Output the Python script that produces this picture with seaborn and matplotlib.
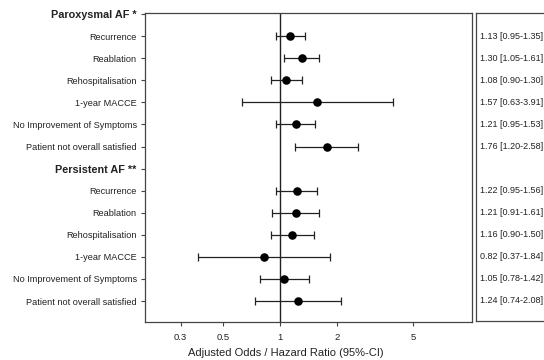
import matplotlib
matplotlib.use("Agg")
import matplotlib.pyplot as plt
import seaborn as sns
import pandas as pd
import numpy as np

groups = ["Paroxysmal AF *", "Persistent AF **"]
outcomes = ["Recurrence", "Reablation", "Rehospitalisation", "1-year MACCE",
            "No Improvement of Symptoms", "Patient not overall satisfied"]
parox_est = [1.13, 1.30, 1.08, 1.57, 1.21, 1.76]
parox_lo = [0.95, 1.05, 0.90, 0.63, 0.95, 1.20]
parox_hi = [1.35, 1.61, 1.30, 3.91, 1.53, 2.58]
pers_est = [1.22, 1.21, 1.16, 0.82, 1.05, 1.24]
pers_lo = [0.95, 0.91, 0.90, 0.37, 0.78, 0.74]
pers_hi = [1.56, 1.61, 1.50, 1.84, 1.42, 2.08]
xticks = [0.3, 0.5, 1, 2, 5]
xtick_labels = ["0.3", "0.5", "1", "2", "5"]

sns.set_style("ticks")
plt.rcParams['font.family'] = ['Liberation Sans', 'DejaVu Sans']

rows, labels, bold = [], [], []
est, lo, hi, pos = [], [], [], []
r = 0
for g, (e, l, h) in zip(groups, [(parox_est, parox_lo, parox_hi), (pers_est, pers_lo, pers_hi)]):
    labels.append(g); bold.append(True); r += 1
    for name, ee, ll, hh in zip(outcomes, e, l, h):
        labels.append(name); bold.append(False)
        est.append(ee); lo.append(ll); hi.append(hh); pos.append(r)
        r += 1
nrows = r
df = pd.DataFrame({"est": est, "lo": lo, "hi": hi, "row": pos})

fig = plt.figure(figsize=(5.44, 3.6), dpi=100)
ax = fig.add_axes([145/544, 1-322/360, (472-145)/544, (322-13)/360])
ax2 = fig.add_axes([476/544, 1-321/360, 0.13, (321-13)/360])

edge = "#444444"
txt = "#222222"
ax.axvline(1, color=txt, lw=1, zorder=1)
ax.errorbar(df["est"], df["row"], xerr=[df["est"]-df["lo"], df["hi"]-df["est"]],
            fmt="none", ecolor=txt, elinewidth=0.9, capsize=2.6, capthick=0.9, zorder=2)
sns.scatterplot(data=df, x="est", y="row", ax=ax, color="black", s=38,
                edgecolor="black", linewidth=0, zorder=3, legend=False)
ax.set_xscale("log")
ax.set_xlim(0.195, 10.2)
ax.set_ylim(nrows - 0.05, -0.05)
ax.set_xticks(xticks)
ax.set_xticklabels(xtick_labels)
ax.xaxis.set_minor_locator(matplotlib.ticker.NullLocator())
ax.set_yticks(range(nrows))
ax.set_yticklabels(labels)
for t, b in zip(ax.get_yticklabels(), bold):
    if b:
        t.set_fontweight("bold")
        t.set_fontsize(7.8)
    else:
        t.set_fontsize(6.6)
    t.set_color(txt)
for t in ax.get_xticklabels():
    t.set_fontsize(6.8)
    t.set_color(txt)
ax.tick_params(length=3, width=0.8, color=edge, pad=3)
ax.tick_params(axis="x", pad=5)
ax.set_xlabel("Adjusted Odds / Hazard Ratio (95%-CI)", fontsize=8.0, color=txt,
              labelpad=4, x=0.43)
ax.set_ylabel("")
for s in ax.spines.values():
    s.set_color(edge); s.set_linewidth(0.9)

ax2.set_xlim(0, 1)
ax2.set_ylim(nrows - 0.05, -0.05)
ax2.set_xticks([]); ax2.set_yticks([])
for s in ax2.spines.values():
    s.set_color(edge); s.set_linewidth(0.9)
for e, l, h, p in zip(est, lo, hi, pos):
    ax2.text(0.055, p, f"{e:.2f} [{l:.2f}-{h:.2f}]", fontsize=6.5, va="center",
             ha="left", color=txt)

fig.savefig("out.png", dpi=100)
